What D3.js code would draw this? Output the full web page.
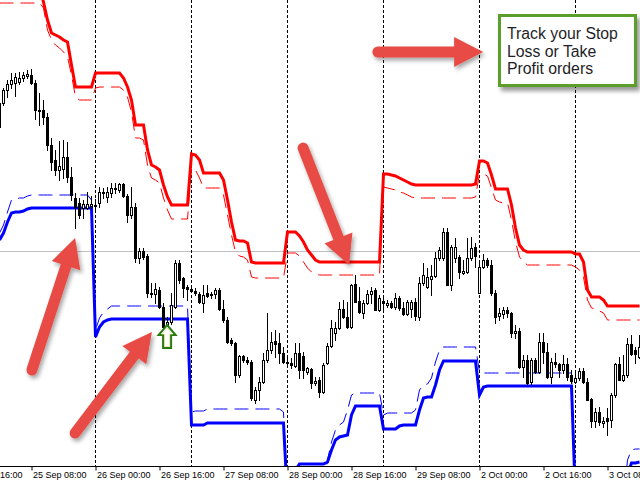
<!DOCTYPE html>
<html><head><meta charset="utf-8">
<script src="https://cdn.jsdelivr.net/npm/d3@7"></script>
<style>html,body{margin:0;padding:0;background:#fff;overflow:hidden}svg{display:block}</style>
</head><body>
<svg id="chart" width="640" height="480"></svg>
<script>
// ---------- DATA (EURUSD H1) ----------
const tickIndex = [-8, 8, 24, 40, 56, 72, 88, 104, 120, 136, 152];
const tickLabels = ["24 Sep 16:00","25 Sep 08:00","26 Sep 00:00","26 Sep 16:00","27 Sep 08:00","28 Sep 00:00","28 Sep 16:00","29 Sep 08:00","2 Oct 00:00","2 Oct 16:00","3 Oct 08:00"];
const daySeparators = [24, 48, 72, 96, 120, 144];
const bidPrice = 1.1949;

const open = [
1.2073,1.2097,1.2110,1.2116,1.2117,1.2118,1.2122,1.2124,1.2125,1.2117,
1.2090,1.2090,1.2083,1.2055,1.2040,1.2030,1.2031,1.2043,1.2023,1.2002,
1.1997,1.1992,1.1992,1.1994,1.1995,1.1997,1.2008,1.2003,1.2007,1.2011,
1.2010,1.2016,1.2004,1.1985,1.1993,1.1942,1.1949,1.1944,1.1907,1.1906,
1.1910,1.1893,1.1873,1.1878,1.1893,1.1937,1.1922,1.1913,1.1911,1.1909,
1.1906,1.1897,1.1907,1.1906,1.1906,1.1910,1.1891,1.1880,1.1860,1.1857,
1.1825,1.1844,1.1840,1.1838,1.1800,1.1810,1.1818,1.1840,1.1850,1.1859,
1.1857,1.1847,1.1838,1.1837,1.1834,1.1847,1.1844,1.1828,1.1831,1.1817,
1.1820,1.1808,1.1837,1.1854,1.1867,1.1872,1.1891,1.1883,1.1873,1.1916,
1.1899,1.1887,1.1897,1.1906,1.1910,1.1890,1.1899,1.1895,1.1897,1.1893,
1.1902,1.1892,1.1886,1.1891,1.1898,1.1883,1.1917,1.1913,1.1921,1.1924,
1.1942,1.1942,1.1968,1.1915,1.1942,1.1943,1.1927,1.1928,1.1942,1.1953,
1.1907,1.1933,1.1940,1.1935,1.1907,1.1884,1.1886,1.1890,1.1887,1.1867,
1.1869,1.1833,1.1840,1.1818,1.1840,1.1828,1.1858,1.1848,1.1823,1.1838,
1.1836,1.1830,1.1836,1.1825,1.1818,1.1822,1.1829,1.1818,1.1801,1.1779,
1.1788,1.1777,1.1782,1.1780,1.1805,1.1836,1.1820,1.1825,1.1856,1.1850,
1.1843];
const high = [
1.2100,1.2112,1.2120,1.2127,1.2127,1.2128,1.2128,1.2130,1.2131,1.2120,
1.2107,1.2100,1.2087,1.2062,1.2050,1.2059,1.2060,1.2058,1.2033,1.2007,
1.2002,1.2000,1.2008,1.2004,1.2001,1.2013,1.2012,1.2013,1.2017,1.2017,
1.2017,1.2017,1.2006,1.2013,1.1997,1.1952,1.1952,1.1946,1.1917,1.1917,
1.1913,1.1897,1.1883,1.1907,1.1940,1.1940,1.1923,1.1915,1.1914,1.1912,
1.1908,1.1915,1.1915,1.1908,1.1912,1.1912,1.1900,1.1883,1.1862,1.1858,
1.1845,1.1845,1.1843,1.1840,1.1813,1.1823,1.1847,1.1887,1.1868,1.1870,
1.1867,1.1853,1.1843,1.1842,1.1857,1.1857,1.1848,1.1833,1.1832,1.1823,
1.1823,1.1837,1.1857,1.1880,1.1878,1.1898,1.1900,1.1898,1.1916,1.1925,
1.1913,1.1900,1.1910,1.1913,1.1912,1.1905,1.1902,1.1900,1.1899,1.1907,
1.1904,1.1898,1.1900,1.1900,1.1902,1.1923,1.1937,1.1932,1.1935,1.1948,
1.1953,1.1972,1.1972,1.1955,1.1962,1.1945,1.1940,1.1962,1.1963,1.1957,
1.1937,1.1946,1.1942,1.1940,1.1910,1.1892,1.1893,1.1893,1.1888,1.1875,
1.1872,1.1845,1.1845,1.1842,1.1842,1.1867,1.1867,1.1857,1.1842,1.1847,
1.1837,1.1845,1.1842,1.1830,1.1830,1.1832,1.1832,1.1822,1.1802,1.1792,
1.1793,1.1783,1.1792,1.1807,1.1837,1.1843,1.1845,1.1862,1.1865,1.1853,
1.1865];
const low = [
1.2070,1.2095,1.2103,1.2112,1.2104,1.2116,1.2119,1.2122,1.2116,1.2081,
1.2075,1.2076,1.2050,1.2030,1.2025,1.2020,1.2022,1.2018,1.2000,1.1972,
1.1982,1.1982,1.1991,1.1992,1.1990,1.1993,1.2002,1.1998,1.2003,1.2007,
1.2008,1.2003,1.1978,1.1982,1.1938,1.1937,1.1941,1.1903,1.1903,1.1897,
1.1892,1.1868,1.1870,1.1876,1.1892,1.1917,1.1903,1.1900,1.1908,1.1905,
1.1897,1.1888,1.1903,1.1902,1.1902,1.1890,1.1878,1.1857,1.1855,1.1818,
1.1823,1.1838,1.1836,1.1800,1.1797,1.1800,1.1817,1.1838,1.1847,1.1843,
1.1837,1.1837,1.1833,1.1832,1.1833,1.1822,1.1822,1.1826,1.1812,1.1815,
1.1803,1.1807,1.1836,1.1853,1.1860,1.1871,1.1882,1.1872,1.1872,1.1898,
1.1887,1.1882,1.1896,1.1897,1.1890,1.1889,1.1890,1.1893,1.1892,1.1891,
1.1890,1.1885,1.1885,1.1883,1.1880,1.1880,1.1915,1.1912,1.1905,1.1923,
1.1940,1.1940,1.1915,1.1910,1.1938,1.1922,1.1926,1.1927,1.1940,1.1933,
1.1907,1.1932,1.1933,1.1905,1.1877,1.1880,1.1882,1.1883,1.1863,1.1862,
1.1832,1.1823,1.1816,1.1816,1.1827,1.1827,1.1837,1.1822,1.1817,1.1833,
1.1823,1.1827,1.1820,1.1817,1.1817,1.1820,1.1817,1.1800,1.1773,1.1773,
1.1775,1.1773,1.1765,1.1773,1.1803,1.1820,1.1819,1.1823,1.1845,1.1837,
1.1842];
const close = [
1.2097,1.2110,1.2116,1.2120,1.2123,1.2122,1.2125,1.2126,1.2117,1.2090,
1.2089,1.2083,1.2055,1.2038,1.2030,1.2034,1.2043,1.2023,1.2005,1.1993,
1.1985,1.1996,1.1996,1.1996,1.1994,1.2008,1.2007,1.2008,1.2012,1.2012,
1.2016,1.2004,1.1985,1.1993,1.1942,1.1949,1.1943,1.1907,1.1906,1.1911,
1.1893,1.1873,1.1878,1.1895,1.1937,1.1920,1.1912,1.1911,1.1909,1.1907,
1.1898,1.1905,1.1904,1.1905,1.1910,1.1891,1.1880,1.1858,1.1857,1.1825,
1.1844,1.1840,1.1838,1.1802,1.1810,1.1818,1.1840,1.1850,1.1858,1.1856,
1.1847,1.1838,1.1837,1.1835,1.1847,1.1830,1.1830,1.1832,1.1817,1.1819,
1.1808,1.1835,1.1854,1.1872,1.1872,1.1891,1.1883,1.1873,1.1915,1.1898,
1.1888,1.1897,1.1906,1.1909,1.1890,1.1902,1.1897,1.1897,1.1893,1.1902,
1.1892,1.1886,1.1898,1.1898,1.1884,1.1917,1.1925,1.1923,1.1924,1.1942,
1.1950,1.1968,1.1915,1.1953,1.1953,1.1928,1.1929,1.1942,1.1952,1.1944,
1.1933,1.1940,1.1935,1.1907,1.1883,1.1887,1.1890,1.1887,1.1867,1.1869,
1.1833,1.1840,1.1817,1.1840,1.1828,1.1858,1.1848,1.1823,1.1838,1.1836,
1.1830,1.1836,1.1823,1.1819,1.1822,1.1829,1.1818,1.1800,1.1779,1.1788,
1.1778,1.1779,1.1779,1.1805,1.1836,1.1820,1.1825,1.1856,1.1846,1.1846,
1.1853];

// trailing stop levels (thick) and offset levels (thin dashed)
const redStop = [
1.2212,1.2212,1.2212,1.2212,1.2212,1.2212,1.2212,1.2212,1.2212,1.2212,
1.2212,1.2198,1.2180,1.2167,1.2165,1.2163,1.2160,1.2158,1.2135,1.2113,
1.2113,1.2113,1.2113,1.2113,1.2127,1.2127,1.2127,1.2127,1.2127,1.2127,
1.2127,1.2122,1.2113,1.2100,1.2075,1.2075,1.2075,1.2050,1.2035,1.2033,
1.2030,1.2015,1.2003,1.1995,1.1995,1.1995,1.1995,1.1995,1.2046,1.2045,
1.2040,1.2027,1.2027,1.2027,1.2027,1.2027,1.2020,1.2000,1.1978,1.1960,
1.1959,1.1959,1.1957,1.1938,1.1937,1.1937,1.1937,1.1937,1.1937,1.1937,
1.1937,1.1937,1.1968,1.1968,1.1968,1.1964,1.1958,1.1950,1.1945,1.1940,
1.1938,1.1938,1.1938,1.1938,1.1938,1.1938,1.1938,1.1938,1.1938,1.1938,
1.1938,1.1938,1.1938,1.1938,1.1938,1.1938,1.2026,1.2026,1.2025,1.2024,
1.2022,1.2020,1.2018,1.2016,1.2015,1.2015,1.2015,1.2015,1.2015,1.2015,
1.2015,1.2015,1.2015,1.2015,1.2015,1.2015,1.2015,1.2015,1.2015,1.2016,
1.2039,1.2039,1.2037,1.2025,1.2011,1.2011,1.2011,1.2011,1.1995,1.1972,
1.1955,1.1950,1.1948,1.1948,1.1948,1.1948,1.1948,1.1948,1.1948,1.1948,
1.1948,1.1948,1.1948,1.1948,1.1946,1.1946,1.1938,1.1910,1.1903,1.1903,
1.1903,1.1900,1.1894,1.1894,1.1894,1.1894,1.1894,1.1894,1.1894,1.1894,
1.1894];
const redLevel = [
1.2197,1.2197,1.2197,1.2197,1.2197,1.2197,1.2197,1.2197,1.2197,1.2197,
1.2197,1.2192,1.2170,1.2160,1.2155,1.2152,1.2148,1.2143,1.2125,1.2103,
1.2100,1.2100,1.2100,1.2100,1.2112,1.2113,1.2113,1.2113,1.2113,1.2113,
1.2113,1.2110,1.2103,1.2088,1.2062,1.2062,1.2060,1.2035,1.2022,1.2020,
1.2017,1.2002,1.1990,1.1981,1.1981,1.1981,1.1981,1.1981,1.2032,1.2030,
1.2022,1.2012,1.2012,1.2012,1.2012,1.2012,1.2005,1.1985,1.1965,1.1948,
1.1944,1.1943,1.1940,1.1923,1.1922,1.1922,1.1922,1.1922,1.1922,1.1922,
1.1922,1.1922,1.1947,1.1947,1.1947,1.1944,1.1938,1.1932,1.1928,1.1926,
1.1925,1.1925,1.1925,1.1925,1.1925,1.1925,1.1925,1.1925,1.1925,1.1925,
1.1925,1.1925,1.1925,1.1925,1.1925,1.1925,1.2013,1.2012,1.2011,1.2010,
1.2008,1.2007,1.2005,1.2003,1.2002,1.2002,1.2002,1.2002,1.2002,1.2002,
1.2002,1.2002,1.2002,1.2002,1.2002,1.2002,1.2002,1.2002,1.2002,1.2003,
1.2026,1.2026,1.2024,1.2012,1.2000,1.1998,1.1997,1.1997,1.1980,1.1958,
1.1943,1.1938,1.1935,1.1935,1.1935,1.1935,1.1935,1.1935,1.1935,1.1935,
1.1935,1.1935,1.1935,1.1935,1.1933,1.1930,1.1923,1.1900,1.1892,1.1891,
1.1889,1.1887,1.1880,1.1880,1.1880,1.1880,1.1880,1.1880,1.1880,1.1880,
1.1880];
const blueStop = [
1.1960,1.1967,1.1978,1.1987,1.1988,1.1988,1.1989,1.1991,1.1992,1.1992,
1.1992,1.1992,1.1992,1.1992,1.1992,1.1992,1.1992,1.1992,1.1992,1.1992,
1.1992,1.1992,1.1992,1.1992,1.1863,1.1873,1.1878,1.1880,1.1881,1.1881,
1.1881,1.1881,1.1881,1.1881,1.1881,1.1881,1.1881,1.1881,1.1881,1.1881,
1.1881,1.1881,1.1881,1.1881,1.1881,1.1881,1.1881,1.1881,1.1775,1.1775,
1.1775,1.1775,1.1777,1.1777,1.1777,1.1777,1.1777,1.1777,1.1777,1.1777,
1.1777,1.1777,1.1777,1.1777,1.1777,1.1777,1.1777,1.1777,1.1777,1.1777,
1.1777,1.1777,1.1700,1.1710,1.1730,1.1736,1.1736,1.1736,1.1736,1.1736,
1.1736,1.1736,1.1738,1.1750,1.1760,1.1763,1.1764,1.1765,1.1785,1.1794,
1.1794,1.1794,1.1794,1.1794,1.1794,1.1794,1.1771,1.1771,1.1771,1.1771,
1.1774,1.1775,1.1775,1.1775,1.1775,1.1790,1.1802,1.1803,1.1803,1.1815,
1.1830,1.1839,1.1839,1.1839,1.1839,1.1839,1.1839,1.1839,1.1839,1.1839,
1.1805,1.1813,1.1814,1.1814,1.1814,1.1814,1.1814,1.1814,1.1814,1.1814,
1.1814,1.1814,1.1814,1.1814,1.1814,1.1814,1.1814,1.1814,1.1814,1.1814,
1.1814,1.1814,1.1814,1.1814,1.1700,1.1700,1.1700,1.1700,1.1700,1.1700,
1.1700,1.1700,1.1700,1.1700,1.1700,1.1700,1.1700,1.1725,1.1737,1.1737,
1.1738];
const blueLevel = [
1.1967,1.1975,1.1988,1.2000,1.2001,1.2002,1.2002,1.2004,1.2005,1.2005,
1.2005,1.2005,1.2005,1.2005,1.2005,1.2005,1.2005,1.2005,1.2005,1.2005,
1.2005,1.2005,1.2005,1.2000,1.1870,1.1882,1.1888,1.1891,1.1894,1.1894,
1.1894,1.1894,1.1894,1.1894,1.1894,1.1894,1.1894,1.1894,1.1894,1.1894,
1.1894,1.1894,1.1894,1.1894,1.1894,1.1894,1.1894,1.1894,1.1788,1.1789,
1.1789,1.1789,1.1791,1.1791,1.1791,1.1791,1.1791,1.1791,1.1791,1.1791,
1.1791,1.1791,1.1791,1.1791,1.1791,1.1791,1.1791,1.1791,1.1791,1.1791,
1.1791,1.1788,1.1700,1.1700,1.1700,1.1700,1.1700,1.1700,1.1700,1.1700,
1.1700,1.1700,1.1740,1.1758,1.1770,1.1775,1.1778,1.1790,1.1805,1.1807,
1.1807,1.1807,1.1807,1.1807,1.1807,1.1807,1.1785,1.1787,1.1787,1.1787,
1.1787,1.1787,1.1787,1.1787,1.1790,1.1810,1.1815,1.1816,1.1822,1.1838,
1.1850,1.1853,1.1853,1.1853,1.1853,1.1853,1.1853,1.1853,1.1853,1.1853,
1.1828,1.1827,1.1827,1.1827,1.1827,1.1827,1.1827,1.1827,1.1827,1.1827,
1.1827,1.1827,1.1827,1.1827,1.1827,1.1827,1.1827,1.1827,1.1827,1.1827,
1.1827,1.1827,1.1827,1.1827,1.1700,1.1700,1.1700,1.1700,1.1700,1.1700,
1.1700,1.1700,1.1700,1.1700,1.1700,1.1700,1.1700,1.1740,1.1750,1.1751,
1.1751];

// annotation arrows: [index, price]
const arrowFrom = [[94.6, 1.2148], [75.9, 1.2052], [8.1, 1.1830], [18.9, 1.1767]];
const arrowTo   = [[120.9, 1.2148], [87.4, 1.1935], [18.9, 1.1962], [38.1, 1.1868]];
const buySignal = [41.9, 1.1875];
const noteLines = ["Track your Stop", "Loss or Take", "Profit orders"];

// ---------- CHART ----------
const W = 640, H = 480, axisY = 466;
const svg = d3.select("#chart");
const x = d3.scaleLinear().domain([0, 160]).range([-0.5, 639.5]);
const y = d3.scaleLinear().domain([1.1734, 1.2200]).range([axisY, 0]);

const defs = svg.append("defs");
defs.append("clipPath").attr("id", "plot").append("rect").attr("x", 0).attr("y", 0).attr("width", W).attr("height", axisY);
const f1 = defs.append("filter").attr("id", "shadow").attr("x", "-30%").attr("y", "-30%").attr("width", "160%").attr("height", "160%");
f1.append("feDropShadow").attr("dx", 2).attr("dy", 3).attr("stdDeviation", 2).attr("flood-color", "#000").attr("flood-opacity", 0.35);
const f2 = defs.append("filter").attr("id", "boxshadow").attr("x", "-20%").attr("y", "-20%").attr("width", "140%").attr("height", "150%");
f2.append("feDropShadow").attr("dx", 3).attr("dy", 4).attr("stdDeviation", 2).attr("flood-color", "#000").attr("flood-opacity", 0.4);

svg.append("rect").attr("width", W).attr("height", H).attr("fill", "#fff");

const plot = svg.append("g").attr("clip-path", "url(#plot)");

// bid line
plot.append("line").attr("x1", 0).attr("x2", W)
  .attr("y1", Math.round(y(bidPrice)) + 0.5).attr("y2", Math.round(y(bidPrice)) + 0.5)
  .attr("stroke", "#c0c0c0").attr("stroke-width", 1);

// day separators
plot.selectAll("line.sep").data(daySeparators).join("line").attr("class", "sep")
  .attr("x1", d => x(d)).attr("x2", d => x(d)).attr("y1", 0).attr("y2", axisY)
  .attr("stroke", "#000").attr("stroke-width", 1).attr("stroke-dasharray", "3,2");

const idx = d3.range(open.length);
const line = arr => d3.line().x(i => x(i)).y(i => y(arr[i]))(idx);

// thin offset levels
plot.append("path").attr("d", line(redLevel)).attr("fill", "none").attr("stroke", "#ff0000").attr("stroke-width", 1).attr("stroke-dasharray", "14,7");
plot.append("path").attr("d", line(blueLevel)).attr("fill", "none").attr("stroke", "#0000ff").attr("stroke-width", 1).attr("stroke-dasharray", "14,7");
// thick stop lines
plot.append("path").attr("d", line(redStop)).attr("fill", "none").attr("stroke", "#ff0000").attr("stroke-width", 3).attr("stroke-linejoin", "miter");
plot.append("path").attr("d", line(blueStop)).attr("fill", "none").attr("stroke", "#0000ff").attr("stroke-width", 3).attr("stroke-linejoin", "miter");

// candles
const cg = plot.append("g");
idx.forEach(i => {
  const cx = x(i);
  cg.append("line").attr("x1", cx).attr("x2", cx)
    .attr("y1", Math.round(y(high[i]))).attr("y2", Math.round(y(low[i])) + 1)
    .attr("stroke", "#000").attr("stroke-width", 1);
  const yo = Math.round(y(open[i])), yc = Math.round(y(close[i]));
  const top = Math.min(yo, yc) + 0.5, bot = Math.max(yo, yc) + 0.5;
  const bull = close[i] >= open[i];
  if (bot - top < 1) {
    cg.append("line").attr("x1", cx - 1.5).attr("x2", cx + 1.5).attr("y1", top).attr("y2", top)
      .attr("stroke", "#000").attr("stroke-width", 1);
  } else {
    cg.append("rect").attr("x", cx - 1).attr("y", top).attr("width", 2).attr("height", bot - top)
      .attr("fill", bull ? "#fff" : "#000").attr("stroke", "#000").attr("stroke-width", 1);
  }
});

// buy signal arrow (green outlined)
{
  const bx = x(buySignal[0]), by = y(buySignal[1]);
  const pts = [[0,0],[8.5,10],[4,10],[4,23],[-4,23],[-4,10],[-8.5,10]].map(p => [bx + p[0], by + p[1]]);
  plot.append("path").attr("d", "M" + pts.join("L") + "Z")
    .attr("fill", "#fff").attr("stroke", "#2a7a12").attr("stroke-width", 2).attr("stroke-linejoin", "miter");
  const inner = [[0,3],[5.5,9.5],[2.5,9.5],[2.5,21.5],[-2.5,21.5],[-2.5,9.5],[-5.5,9.5]].map(p => [bx + p[0], by + p[1]]);
  plot.append("path").attr("d", "M" + inner.join("L") + "Z")
    .attr("fill", "none").attr("stroke", "#e8c060").attr("stroke-width", 0.6).attr("opacity", 0.8);
}

// x axis
const axis = d3.axisBottom(x).tickValues(tickIndex).tickFormat((d, i) => tickLabels[i]).tickSize(4).tickSizeOuter(0);
const ag = svg.append("g").attr("transform", `translate(0,${axisY + 0.5})`).call(axis);
ag.select(".domain").attr("stroke", "#000").attr("d", `M0,0H${W}`);
ag.selectAll(".tick line").attr("stroke", "#000");
ag.selectAll(".tick text").attr("text-anchor", "start").attr("x", 1).attr("y", 5)
  .attr("fill", "#000").style("font-family", "'Liberation Sans', Arial, sans-serif").style("font-size", "9px");

// red annotation arrows
const ann = svg.append("g").attr("filter", "url(#shadow)");
arrowFrom.forEach((f, k) => {
  const t = arrowTo[k];
  const x1 = x(f[0]), y1 = y(f[1]), x2 = x(t[0]), y2 = y(t[1]);
  const L = Math.hypot(x2 - x1, y2 - y1), ux = (x2 - x1) / L, uy = (y2 - y1) / L, px = -uy, py = ux;
  const headLen = 29, half = 15;
  const bx = x2 - ux * headLen, by = y2 - uy * headLen;
  const g = ann.append("g");
  g.append("line").attr("x1", x1).attr("y1", y1).attr("x2", bx + ux * 3).attr("y2", by + uy * 3)
    .attr("stroke", "#e84c45").attr("stroke-width", 11).attr("stroke-linecap", "round");
  g.append("path").attr("d", `M${x2},${y2}L${bx + px * half},${by + py * half}L${bx - px * half},${by - py * half}Z`)
    .attr("fill", "#e84c45");
});

// note box
const box = svg.append("g");
box.append("rect").attr("x", 499.5).attr("y", 15.5).attr("width", 136).attr("height", 70)
  .attr("fill", "#fff").attr("stroke", "#5b9e2c").attr("stroke-width", 3).attr("filter", "url(#boxshadow)");
box.selectAll("text").data(noteLines).join("text")
  .attr("x", 507).attr("y", (d, i) => 39 + i * 17.5)
  .attr("fill", "#1e1e28").style("font-family", "'Liberation Sans', Arial, sans-serif").style("font-size", "15.8px")
  .text(d => d);
</script>
</body></html>
